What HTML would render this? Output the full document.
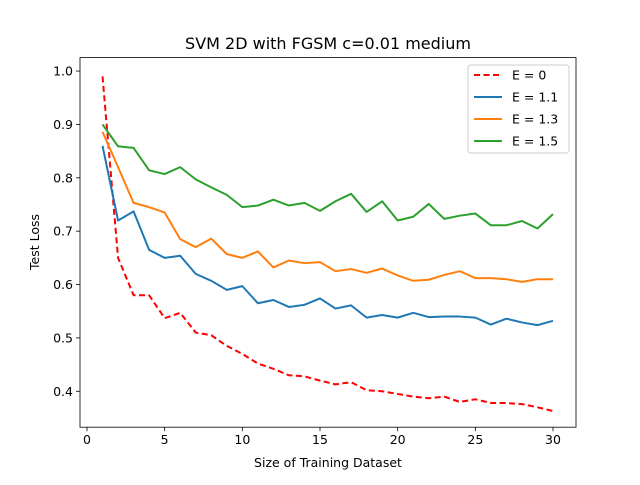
<!DOCTYPE html>
<html><head><meta charset="utf-8"><style>body{margin:0;background:#fff}svg text{font-family:"DejaVu Sans","Liberation Sans",sans-serif}</style></head>
<body>
<svg id="chart" width="640" height="480" xmlns="http://www.w3.org/2000/svg"></svg>
<script>
const xs=[];for(let i=1;i<=30;i++)xs.push(i);
const eps0=[0.99,0.65,0.58,0.58,0.537,0.547,0.51,0.505,0.485,0.47,0.452,0.442,0.43,0.428,0.42,0.413,0.417,0.402,0.40,0.395,0.39,0.387,0.39,0.38,0.385,0.378,0.378,0.376,0.37,0.363];
const eps11=[0.86,0.72,0.737,0.665,0.65,0.654,0.62,0.607,0.59,0.597,0.565,0.571,0.558,0.562,0.574,0.555,0.561,0.538,0.543,0.538,0.547,0.539,0.54,0.54,0.538,0.525,0.536,0.529,0.524,0.532];
const eps13=[0.886,0.82,0.753,0.745,0.735,0.685,0.67,0.686,0.657,0.65,0.662,0.632,0.645,0.64,0.642,0.625,0.629,0.622,0.63,0.617,0.607,0.609,0.618,0.625,0.612,0.612,0.61,0.605,0.61,0.61];
const eps15=[0.90,0.859,0.856,0.814,0.807,0.82,0.797,0.782,0.768,0.745,0.748,0.759,0.748,0.753,0.738,0.756,0.77,0.736,0.756,0.72,0.727,0.751,0.723,0.729,0.733,0.711,0.711,0.719,0.705,0.732];
const xTicks=[0,5,10,15,20,25,30];
const yTicks=[0.4,0.5,0.6,0.7,0.8,0.9,1.0];
const L=80,R=576,T=57.6,B=427.2,xmin=-0.45,xmax=31.48,ymin=0.3327,ymax=1.0252;
const sx=v=>L+(v-xmin)/(xmax-xmin)*(R-L);
const sy=v=>B-(v-ymin)/(ymax-ymin)*(B-T);
const svg=document.getElementById('chart');const NS='http://www.w3.org/2000/svg';
function mk(t,a,p){const e=document.createElementNS(NS,t);for(const k in a)e.setAttribute(k,a[k]);(p||svg).appendChild(e);return e;}
let e;
e=mk('text',{x:328,y:49,'font-size':16,'text-anchor':'middle'});e.textContent='SVM 2D with FGSM c=0.01 medium';

xTicks.forEach(t=>{const x=sx(t);mk('line',{x1:x,x2:x,y1:B,y2:B+4,stroke:'#000','stroke-width':0.8});
e=mk('text',{x:x,y:B+17,'font-size':12.5,'text-anchor':'middle'});e.textContent=t;
});
yTicks.forEach(t=>{const y=sy(t);mk('line',{x1:L-4,x2:L,y1:y,y2:y,stroke:'#000','stroke-width':0.8});
e=mk('text',{x:L-7,y:y+4.5,'font-size':12.5,'text-anchor':'end'});e.textContent=t.toFixed(1);
});
e=mk('text',{x:328,y:467,'font-size':12.5,'text-anchor':'middle'});e.textContent='Size of Training Dataset';

e=mk('text',{x:0,y:0,'font-size':12.5,'text-anchor':'middle',transform:'translate(39,242) rotate(-90)'});e.textContent='Test Loss';

const series=[[eps0,'red','6,3.5','eps-0-line'],[eps11,'#1f77b4','','eps-1.1-line'],[eps13,'#ff7f0e','','eps-1.3-line'],[eps15,'#2ca02c','','eps-1.5-line']];
series.forEach(s=>{const pts=s[0].map((v,i)=>sx(xs[i])+','+sy(v)).join(' ');
e=mk('polyline',{points:pts,fill:'none',stroke:s[1],'stroke-width':2,'stroke-dasharray':s[2]||'none','stroke-linejoin':'round'});
});
e=mk('rect',{x:L,y:T,width:R-L,height:B-T,fill:'none',stroke:'#000','stroke-width':0.8});

const g=mk('g',{});
mk('rect',{x:468,y:65,width:101,height:88,rx:3,fill:'#fff',stroke:'#ccc','stroke-width':1},g);
const labels=['Ε = 0','Ε = 1.1','Ε = 1.3','Ε = 1.5'];
labels.forEach((l,i)=>{const y=75+i*22;
mk('line',{x1:474,x2:502,y1:y,y2:y,stroke:series[i][1],'stroke-width':2,'stroke-dasharray':series[i][2]||'none'},g);
e=mk('text',{x:512,y:y+4.5,'font-size':12.5},g);e.textContent=l;
});
</script>
</body></html>
